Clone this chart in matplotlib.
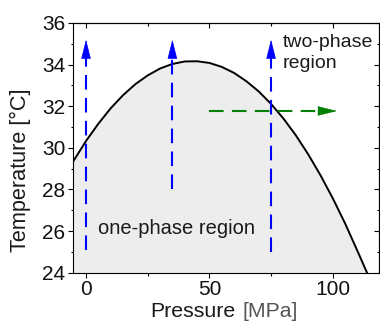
import matplotlib
matplotlib.use("Agg")
import matplotlib.pyplot as plt
import numpy as np

plt.rcParams['font.family'] = ['Liberation Sans', 'DejaVu Sans']

# phase boundary
pressure = [-5.3, 0, 5, 10, 15, 20, 25, 30, 35, 40, 45, 50, 55, 60, 65,
            70, 75, 80, 85, 90, 95, 100, 105, 110, 113.9]
temperature = [29.33, 30.33, 31.16, 31.90, 32.53, 33.06, 33.48, 33.81, 34.03,
               34.15, 34.16, 34.08, 33.89, 33.60, 33.20, 32.71, 32.11, 31.41,
               30.61, 29.70, 28.69, 27.58, 26.37, 25.05, 24.0]

# vertical (isobaric) arrows: pressure, start T, tip T
v_arrows = [(0, 25.1, 35.2), (35, 28.0, 35.2), (75, 25.0, 35.2)]
# horizontal (isothermal) arrow: temperature, start P, tip P
h_arrow = (31.77, 49.9, 101.7)

fig = plt.figure(figsize=(3.8, 3.28), dpi=100)
ax = fig.add_axes([0.192, 0.1686, 0.805, 0.7614])

p = np.array(pressure)
t = np.array(temperature)
ax.fill_between(p, t, 24, color='#ededed', lw=0, zorder=1)
ax.plot(p, t, color='black', lw=1.4, zorder=3)

head_len_v = 0.8   # in degC
head_len_h = 6.9   # in MPa
dash = (0, (7, 4))
for P, t0, t1 in v_arrows:
    ax.plot([P, P], [t0, t1 - head_len_v], color='#0000ff', lw=1.5,
            ls=dash, zorder=4)
    ax.annotate('', xy=(P, t1), xytext=(P, t1 - head_len_v),
                arrowprops=dict(arrowstyle='-|>,head_length=1.0,head_width=0.25',
                                color='#0000ff', lw=0.5, mutation_scale=12.5,
                                shrinkA=0, shrinkB=0), zorder=5)

T, p0, p1 = h_arrow
ax.plot([p0, p1 - head_len_h], [T, T], color='#008000', lw=1.5, ls=dash, zorder=4)
ax.annotate('', xy=(p1, T), xytext=(p1 - head_len_h, T),
            arrowprops=dict(arrowstyle='-|>,head_length=1.0,head_width=0.25',
                            color='#008000', lw=0.5, mutation_scale=12.5,
                            shrinkA=0, shrinkB=0), zorder=5)

ax.text(4.9, 25.86, 'one-phase region', fontsize=14.5, color='#1a1a1a',
        va='baseline', ha='left', zorder=6)
ax.text(79.8, 35.45, 'two-phase\nregion', fontsize=14, color='#1a1a1a',
        va='top', ha='left', linespacing=1.3, zorder=6)

ax.set_xlim(-5.3, 118.7)
ax.set_ylim(24, 36)
xmajor, xminor = [0, 50, 100], [25, 75]
ymajor, yminor = np.arange(24, 37, 2), np.arange(25, 36, 2)
ax.set_xticks(xmajor)
ax.set_xticks(xminor, minor=True)
ax.set_yticks(ymajor)
ax.set_yticks(yminor, minor=True)

ax.tick_params(which='both', labelsize=15, labelcolor='#111111', pad=2,
               width=0.8, direction='out')
ax.tick_params(which='major', length=3.3)
ax.tick_params(which='minor', length=1.8)
for spine in ax.spines.values():
    spine.set_linewidth(0.8)

# mirrored ticks on top/right, pointing inward
top = ax.secondary_xaxis('top')
top.set_xticks(xmajor, labels=[])
top.set_xticks(xminor, minor=True)
right = ax.secondary_yaxis('right')
right.set_yticks(ymajor, labels=[])
right.set_yticks(yminor, minor=True)
for sec in (top, right):
    sec.tick_params(which='both', direction='in', width=0.8)
    sec.tick_params(which='major', length=3.3)
    sec.tick_params(which='minor', length=1.8)

fig.text(0.396, 0.035, 'Pressure', fontsize=15.3, color='#1a1a1a', ha='left', va='baseline')
fig.text(0.637, 0.035, '[MPa]', fontsize=15.3, color='#555555', ha='left', va='baseline')
fig.text(20 / 380, 1 - 170 / 328, 'Temperature [°C]', fontsize=15.6, color='#1a1a1a',
         rotation=90, rotation_mode='anchor', ha='center', va='center')

fig.savefig('out.png', dpi=100)
